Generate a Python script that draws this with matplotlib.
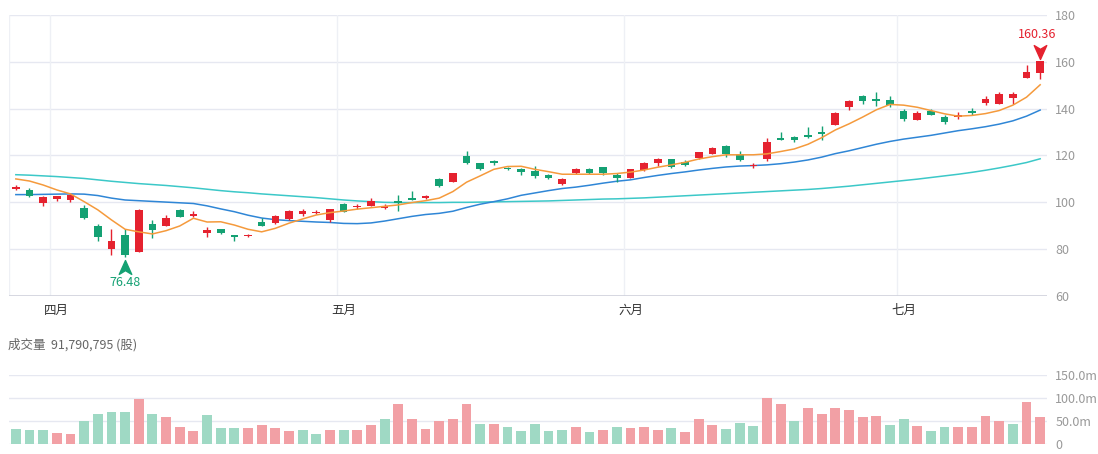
import numpy as np
import matplotlib
matplotlib.use('Agg')
import matplotlib.pyplot as plt
from matplotlib.path import Path
from matplotlib.transforms import offset_copy

plt.rcParams['font.family'] = ['Noto Sans CJK SC', 'DejaVu Sans']

# daily candles (red = close above open)
opens = [105.9, 105.3, 99.6, 101.6, 101.0, 97.5, 89.9, 80.0, 86.0, 78.8,
         90.8, 89.9, 96.8, 94.3, 87.1, 88.6, 85.9, 85.5, 91.6, 91.3,
         92.8, 95.0, 95.3, 92.3, 99.2, 97.8, 98.6, 97.6, 100.6, 101.6,
         102.0, 110.0, 108.8, 119.8, 116.7, 117.7, 114.8, 114.1, 113.5, 111.8,
         107.7, 112.7, 114.4, 115.1, 111.6, 110.6, 113.8, 117.0, 118.5, 117.4,
         118.8, 120.7, 124.1, 120.6, 115.4, 118.5, 127.6, 127.9, 128.8, 130.2,
         133.1, 140.5, 145.6, 144.0, 143.8, 139.2, 135.2, 139.2, 136.4, 136.6,
         138.9, 142.6, 142.1, 144.5, 153.3, 155.3]
closes = [106.6, 102.7, 102.4, 102.6, 103.0, 93.2, 85.3, 83.5, 77.5, 96.6,
          88.2, 93.2, 93.9, 95.2, 88.2, 86.8, 85.1, 85.9, 89.9, 94.2,
          96.5, 96.3, 96.0, 97.1, 96.0, 98.5, 100.6, 98.3, 99.9, 101.2,
          102.7, 107.1, 112.4, 117.0, 114.4, 116.7, 114.3, 113.1, 111.4, 110.3,
          110.0, 114.1, 112.4, 112.4, 110.6, 114.1, 117.0, 118.4, 115.1, 116.0,
          121.4, 123.1, 120.7, 118.1, 115.9, 125.9, 126.7, 126.7, 127.8, 129.1,
          138.2, 143.3, 143.2, 143.2, 141.6, 135.5, 138.3, 137.5, 134.2, 137.5,
          138.3, 144.0, 146.3, 146.2, 155.6, 160.36]
lows = [105.3, 102.2, 98.6, 100.6, 100.3, 93.0, 83.5, 77.6, 76.48, 78.6,
        84.8, 89.7, 93.6, 93.6, 85.1, 86.5, 83.5, 85.0, 89.7, 90.8,
        92.5, 94.2, 95.0, 91.5, 95.8, 97.3, 98.4, 97.1, 96.3, 101.1,
        101.5, 106.7, 108.5, 116.3, 113.8, 115.9, 114.0, 111.8, 110.6, 110.0,
        107.5, 112.0, 112.2, 111.8, 108.6, 110.4, 113.5, 115.6, 114.7, 115.7,
        118.6, 120.5, 119.5, 117.8, 114.8, 117.7, 126.5, 125.8, 127.4, 126.7,
        132.9, 139.4, 142.1, 141.2, 140.6, 134.9, 135.0, 137.2, 133.4, 135.8,
        137.1, 141.7, 141.8, 141.9, 153.1, 152.6]
highs = [107.2, 106.2, 102.6, 102.8, 103.6, 99.0, 90.8, 88.5, 88.5, 97.3,
         92.5, 94.5, 97.0, 96.2, 89.6, 88.8, 86.1, 86.4, 93.5, 94.4,
         96.8, 97.1, 96.8, 97.3, 99.9, 99.2, 101.8, 99.2, 103.0, 104.9,
         103.2, 110.2, 112.7, 122.0, 116.9, 118.1, 115.3, 114.6, 115.5, 112.0,
         110.6, 114.8, 114.6, 115.3, 112.4, 114.3, 117.3, 118.8, 118.7, 118.0,
         121.7, 123.7, 124.3, 122.0, 116.8, 127.6, 130.2, 128.5, 132.3, 132.8,
         138.4, 143.8, 145.8, 147.3, 145.5, 139.9, 139.2, 139.9, 137.1, 138.6,
         140.2, 145.2, 147.2, 147.2, 158.7, 160.36]

ma5 = [110.0, 109.1, 107.4, 105.3, 103.6, 100.3, 96.8, 92.5, 88.5, 87.4,
       86.5, 87.9, 89.9, 93.2, 91.6, 91.7, 90.3, 88.5, 87.4, 88.9,
       91.1, 92.9, 94.6, 95.6, 96.3, 97.1, 97.7, 98.3, 98.9, 99.9,
       100.7, 101.8, 104.6, 108.6, 111.3, 114.1, 115.3, 115.4, 114.1, 113.1,
       112.0, 112.0, 112.0, 112.0, 112.3, 112.9, 113.8, 115.0, 116.0, 117.1,
       118.5, 119.5, 120.3, 120.3, 120.3, 120.7, 121.7, 122.8, 124.8, 127.6,
       130.9, 133.5, 136.4, 139.5, 141.8, 141.5, 140.6, 139.2, 137.8, 136.8,
       137.1, 137.9, 139.2, 141.5, 144.9, 150.2]
ma20 = [103.3, 103.3, 103.4, 103.5, 103.6, 103.5, 102.9, 101.8, 101.0, 100.7,
        100.4, 100.1, 99.8, 99.5, 98.5, 97.2, 96.0, 94.5, 93.3, 92.6,
        92.2, 91.9, 91.6, 91.4, 91.0, 90.9, 91.2, 92.0, 93.0, 94.0,
        94.8, 95.3, 96.2, 97.8, 99.2, 100.3, 101.5, 103.0, 104.0, 105.0,
        105.9, 106.5, 107.3, 108.2, 109.0, 109.6, 110.6, 111.5, 112.3, 113.0,
        113.8, 114.5, 115.1, 115.5, 115.7, 116.0, 116.5, 117.2, 118.1, 119.3,
        120.8, 122.0, 123.4, 124.8, 126.0, 127.0, 127.8, 128.6, 129.6, 130.6,
        131.4, 132.3, 133.4, 134.8, 136.8, 139.4]
ma60 = [111.8, 111.6, 111.3, 111.0, 110.6, 110.2, 109.6, 109.0, 108.5, 108.0,
        107.6, 107.2, 106.7, 106.2, 105.6, 105.0, 104.5, 104.1, 103.6, 103.2,
        102.8, 102.4, 102.0, 101.5, 101.0, 100.6, 100.3, 100.0, 99.9, 99.9,
        99.9, 99.9, 100.0, 100.0, 100.1, 100.2, 100.3, 100.4, 100.5, 100.6,
        100.8, 101.0, 101.2, 101.4, 101.5, 101.7, 101.9, 102.2, 102.5, 102.8,
        103.1, 103.4, 103.7, 104.0, 104.3, 104.6, 104.9, 105.2, 105.5, 105.9,
        106.4, 106.9, 107.5, 108.1, 108.7, 109.3, 109.9, 110.6, 111.3, 112.0,
        112.8, 113.7, 114.7, 115.8, 117.0, 118.6]

# volume in millions of shares, r = red bar, g = green bar
volume = [33, 31, 31, 24, 21, 50, 65, 70, 70, 97,
          65, 58, 36, 28, 62, 35, 34, 35, 41, 34,
          29, 31, 21, 30, 30, 30, 41, 54, 86, 54,
          32, 50, 55, 86, 44, 43, 38, 29, 43, 29,
          31, 38, 27, 31, 36, 35, 37, 31, 35, 27,
          55, 42, 32, 45, 40, 100, 86, 50, 79, 65,
          78, 74, 58, 61, 42, 55, 39, 28, 37, 36,
          37, 60, 50, 44, 91, 58]
vol_side = list('gggrrggggr' 'grrrgggrrr' 'rggrgrrgrr' 'rrrrgrgggg'
                'grgrgrrrgr' 'rrgggrrgrr' 'rrrrggrggr' 'rrrgrr')

month_labels = ['四月', '五月', '六月', '七月']
month_first = [3, 24, 45, 65]

price_ticks = [60, 80, 100, 120, 140, 160, 180]
vol_ticks = [0, 50, 100, 150]
vol_tick_labels = ['0', '50.0m', '100.0m', '150.0m']

RED = '#e5222f'
GREEN = '#14a173'
VRED = '#f2a0a5'
VGREEN = '#9fd9c4'
GRID = '#e6e8f1'
LABEL = '#999999'

W, H = 1098, 454
fig = plt.figure(figsize=(W / 100, H / 100), dpi=100)
ax = fig.add_axes([9 / W, (H - 296) / H, 1038 / W, 281 / H])
axv = fig.add_axes([9 / W, (H - 444) / H, 1038 / W, 69 / H])

n = len(opens)
x = np.arange(n)
o = np.array(opens)
c = np.array(closes)
up = c >= o
cols = np.where(up, RED, GREEN)

for a in (ax, axv):
    a.set_xlim(-0.5, n - 0.5)
    for s in a.spines.values():
        s.set_visible(False)
    a.yaxis.tick_right()
    a.tick_params(axis='y', length=0, pad=6, labelsize=9, labelcolor=LABEL)

# price panel
ax.set_ylim(60, 180)
for v in price_ticks[1:]:
    ax.axhline(v, color=GRID, lw=1, zorder=0)
ax.axhline(60, color='#cfd1dc', lw=1.2, zorder=1)
for b in [-0.5] + [m - 0.5 for m in month_first]:
    ax.axvline(b, color='#eef0f5', lw=1, zorder=0)
ax.set_yticks(price_ticks)
ax.set_xticks(month_first)
ax.set_xticklabels(month_labels)
ax.tick_params(axis='x', length=0, pad=6, labelsize=9, labelcolor='#333333')

ax.vlines(x, lows, highs, colors=cols, lw=1, zorder=3)
body = np.maximum(np.abs(c - o), 0.5)
ax.bar(x, body, bottom=np.minimum(o, c), width=0.56, color=cols, zorder=4)

ax.plot(x, ma60, color='#3cc8c8', lw=1.1, zorder=2)
ax.plot(x, ma20, color='#2f86d6', lw=1.1, zorder=2)
ax.plot(x, ma5, color='#f59a3c', lw=1.1, zorder=5)

# max / min markers
arrow_up = Path([(0, 1), (0.9, -1), (0, -0.45), (-0.9, -1), (0, 1)],
                [Path.MOVETO, Path.LINETO, Path.LINETO, Path.LINETO, Path.CLOSEPOLY])
arrow_dn = Path([(0, -1), (0.9, 1), (0, 0.45), (-0.9, 1), (0, -1)],
                [Path.MOVETO, Path.LINETO, Path.LINETO, Path.LINETO, Path.CLOSEPOLY])
hi_i = int(np.argmax(highs))
lo_i = int(np.argmin(lows))
ax.plot(hi_i, highs[hi_i], marker=arrow_dn, ms=10, color=RED, zorder=6, clip_on=False,
        transform=offset_copy(ax.transData, fig=fig, x=0, y=9, units='dots'))
ax.plot(lo_i, lows[lo_i], marker=arrow_up, ms=10, color=GREEN, zorder=6, clip_on=False,
        transform=offset_copy(ax.transData, fig=fig, x=0, y=-10, units='dots'))
ax.annotate(f'{highs[hi_i]:.2f}', (hi_i, highs[hi_i]), xytext=(-3, 26),
            textcoords='offset pixels', ha='center', va='center', color=RED, fontsize=9)
ax.annotate(f'{lows[lo_i]:.2f}', (lo_i, lows[lo_i]), xytext=(0, -25),
            textcoords='offset pixels', ha='center', va='center', color=GREEN, fontsize=9)

# volume panel
axv.set_ylim(0, 150)
for v in vol_ticks:
    axv.axhline(v, color=GRID, lw=1, zorder=0)
axv.bar(x, volume, width=0.72, color=[VRED if s == 'r' else VGREEN for s in vol_side],
        zorder=2)
axv.set_yticks(vol_ticks)
axv.set_yticklabels(vol_tick_labels)
axv.set_xticks([])

fig.text(8 / W, 1 - 345 / H, '成交量  91,790,795 (股)', color='#666666',
         fontsize=9, va='center', ha='left')

fig.savefig('out.png', dpi=100)
